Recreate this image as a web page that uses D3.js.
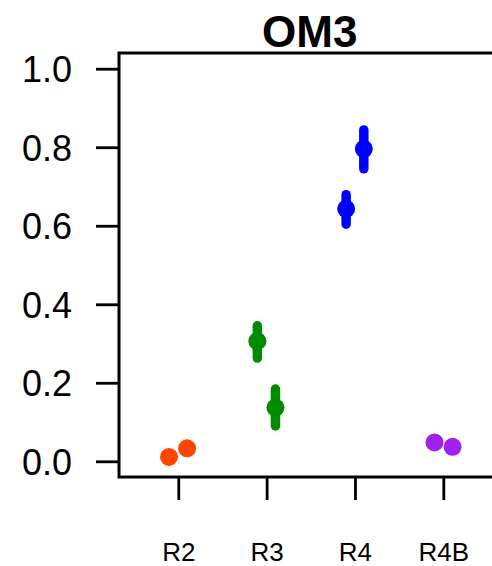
<!DOCTYPE html>
<html>
<head>
<meta charset="utf-8">
<script src="https://cdn.jsdelivr.net/npm/d3@7"></script>
<style>
  html, body { margin: 0; padding: 0; background: #fff; }
  svg { display: block; font-family: "Liberation Sans", Arial, sans-serif; }
</style>
</head>
<body>
<svg id="chart" width="492" height="566"></svg>
<script>
// Sites on the x axis and their tick labels
const categories = ["R2", "R3", "R4", "R4B"];
const yTicks = [0, 0.2, 0.4, 0.6, 0.8, 1.0];

// Two estimates per site, dodged left and right of the site tick
const pointSite   = ["R2", "R2", "R3", "R3", "R4", "R4", "R4B", "R4B"];
const pointDodge  = [-0.105, 0.1, -0.105, 0.1, -0.1, 0.1, -0.1, 0.105];
const pointValue  = [0.011, 0.033, 0.306, 0.137, 0.643, 0.796, 0.048, 0.037];
const pointLower  = [0.011, 0.033, 0.263, 0.090, 0.604, 0.745, 0.048, 0.037];
const pointUpper  = [0.011, 0.033, 0.345, 0.184, 0.679, 0.844, 0.048, 0.037];

const siteColors = ["#FF4500", "#008B00", "#0000FF", "#A020F0"];

const svg = d3.select("#chart");

const plotLeft = 119, plotRight = 502.6, plotTop = 53, plotBottom = 477;

const x = d3.scaleLinear()
  .domain([0.329, categories.length + 0.671])
  .range([plotLeft, plotRight]);

const y = d3.scaleLinear()
  .domain([-0.04, 1.04])
  .range([plotBottom, plotTop]);

const color = d3.scaleOrdinal().domain(categories).range(siteColors);

const points = pointSite.map((s, i) => ({
  site: s,
  pos: categories.indexOf(s) + 1 + pointDodge[i],
  value: pointValue[i],
  lo: pointLower[i],
  hi: pointUpper[i]
}));

// Title
svg.append("text")
  .attr("x", (plotLeft + plotRight) / 2 - 1)
  .attr("y", 46.5)
  .attr("text-anchor", "middle")
  .attr("font-weight", "bold")
  .attr("font-size", 44)
  .attr("fill", "#000")
  .text("OM3");

// Y axis
const yAxis = svg.append("g")
  .attr("transform", `translate(${plotLeft},0)`)
  .call(d3.axisLeft(y).tickValues(yTicks).tickFormat(d3.format(".1f"))
    .tickSize(23).tickPadding(24));
yAxis.select(".domain").remove();
yAxis.selectAll(".tick line").attr("stroke", "#000").attr("stroke-width", 2.8);
yAxis.selectAll(".tick text")
  .attr("font-size", 36)
  .attr("font-family", "Liberation Sans, Arial, sans-serif")
  .attr("fill", "#000")
  .attr("dy", "0.36em");

// X axis
const xAxis = svg.append("g")
  .attr("transform", `translate(0,${plotBottom})`)
  .call(d3.axisBottom(x).tickValues(categories.map((c, i) => i + 1))
    .tickFormat(d => categories[d - 1])
    .tickSize(23).tickPadding(43));
xAxis.select(".domain").remove();
xAxis.selectAll(".tick line").attr("stroke", "#000").attr("stroke-width", 2.8);
xAxis.selectAll(".tick text")
  .attr("font-size", 26)
  .attr("font-family", "Liberation Sans, Arial, sans-serif")
  .attr("fill", "#000");

// Plot frame
svg.append("rect")
  .attr("x", plotLeft)
  .attr("y", plotTop)
  .attr("width", plotRight - plotLeft)
  .attr("height", plotBottom - plotTop)
  .attr("fill", "none")
  .attr("stroke", "#000")
  .attr("stroke-width", 3);

// Interval bars
svg.append("g").selectAll("line")
  .data(points)
  .join("line")
  .attr("x1", d => x(d.pos))
  .attr("x2", d => x(d.pos))
  .attr("y1", d => y(d.lo))
  .attr("y2", d => y(d.hi))
  .attr("stroke", d => color(d.site))
  .attr("stroke-width", 9.5)
  .attr("stroke-linecap", "round");

// Point estimates
svg.append("g").selectAll("circle")
  .data(points)
  .join("circle")
  .attr("cx", d => x(d.pos))
  .attr("cy", d => y(d.value))
  .attr("r", 9)
  .attr("fill", d => color(d.site));
</script>
</body>
</html>
